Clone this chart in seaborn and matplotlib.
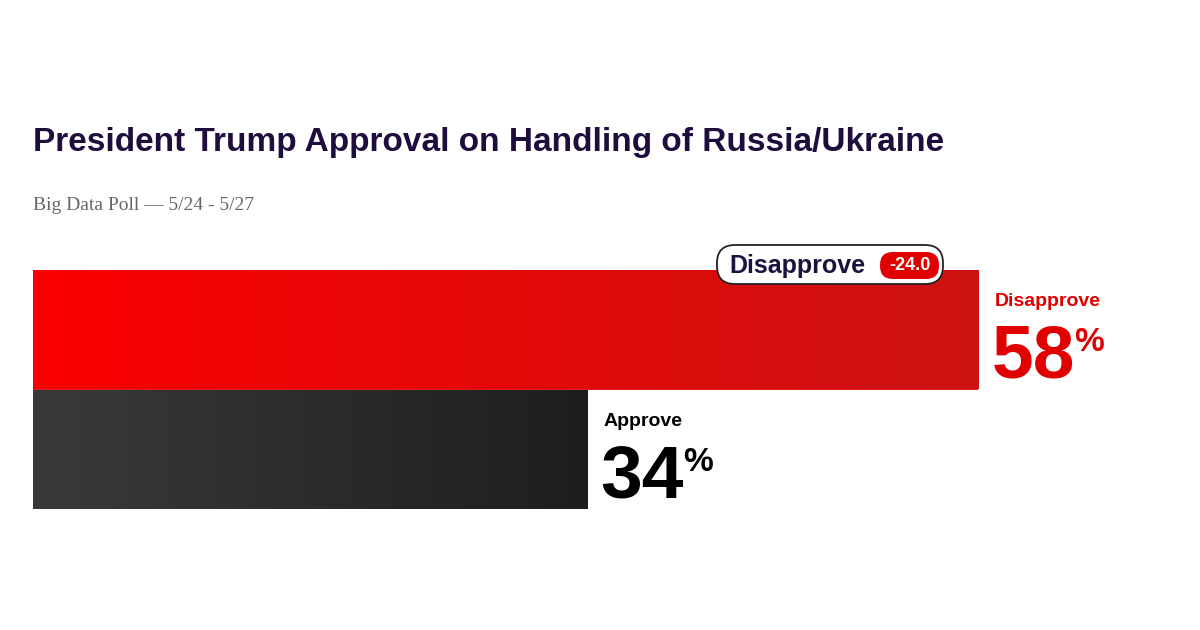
import matplotlib
matplotlib.use("Agg")
import matplotlib.pyplot as plt
import numpy as np
import pandas as pd
import seaborn as sns
from matplotlib.colors import LinearSegmentedColormap
from matplotlib.patches import FancyBboxPatch

categories = ["Disapprove", "Approve"]
values = [58, 34]
net = -24.0
title = "President Trump Approval on Handling of Russia/Ukraine"
subtitle = "Big Data Poll \u2014 5/24 - 5/27"

sns.set_theme(style="white")
plt.rcParams["font.family"] = ["Liberation Sans", "DejaVu Sans"]

W, H = 1200, 630
fig = plt.figure(figsize=(12, 6.3), dpi=100)

# overlay in pixel coordinates for text and the badge
ov = fig.add_axes([0, 0, 1, 1], zorder=3)
ov.set_xlim(0, W)
ov.set_ylim(H, 0)
ov.axis("off")

px_per = 16.3
xmax = 60
ax = fig.add_axes([33 / W, 1 - 509 / H, xmax * px_per / W, 239 / H], zorder=1)
df = pd.DataFrame({"cat": categories, "val": values})
sns.barplot(data=df, x="val", y="cat", orient="h", width=1.0, ax=ax,
            color="red", edgecolor="none")
ax.axis("off")

grads = [LinearSegmentedColormap.from_list("r", ["#fb0000", "#cc1212"]),
         LinearSegmentedColormap.from_list("k", ["#3a3a3a", "#1e1e1e"])]
for patch, cmap in zip(ax.patches, grads):
    x0, y0 = patch.get_x(), patch.get_y()
    w, h = patch.get_width(), patch.get_height()
    im = ax.imshow(np.linspace(0, 1, 256)[None, :], cmap=cmap, aspect="auto",
                   extent=[x0, x0 + w, y0 + h, y0], zorder=2)
    im.set_clip_path(patch)
ax.set_xlim(0, xmax)
ax.set_ylim(1.5, -0.5)

# value labels
lab_cols = ["#e00000", "#000000"]
for i, (c, v) in enumerate(zip(categories, values)):
    xe = 33 + v * px_per + 16
    ytop = 302 if i == 0 else 422
    ov.text(xe, ytop, c, color=lab_cols[i], fontsize=14, fontweight="bold", va="center")
    ov.text(xe - 3, ytop + 76, f"{v}", color=lab_cols[i], fontsize=54,
            fontweight="bold", va="baseline")
    ov.text(xe + 80, ytop + 49, "%", color=lab_cols[i], fontsize=24,
            fontweight="bold", va="baseline")

# badge
ov.add_patch(FancyBboxPatch((717, 245), 226, 39, boxstyle="round,pad=0,rounding_size=18",
                            facecolor="white", edgecolor="#222222", linewidth=1.3))
ov.text(729, 266, "Disapprove", color="#1c1240", fontsize=18, fontweight="bold", va="center")
ov.add_patch(FancyBboxPatch((880, 252), 59, 27, boxstyle="round,pad=0,rounding_size=13",
                            facecolor="#e00000", edgecolor="none"))
ov.text(909.5, 266, f"{net:.1f}", color="white", fontsize=13, fontweight="bold",
        ha="center", va="center")

ov.text(33, 143, title, color="#1f0d3d", fontsize=24, fontweight="bold", va="center")
ov.text(33, 206, subtitle, color="#666666", fontsize=14,
        family=["Liberation Serif", "DejaVu Serif"], va="center")

fig.savefig("out.png", dpi=100, facecolor="white")
